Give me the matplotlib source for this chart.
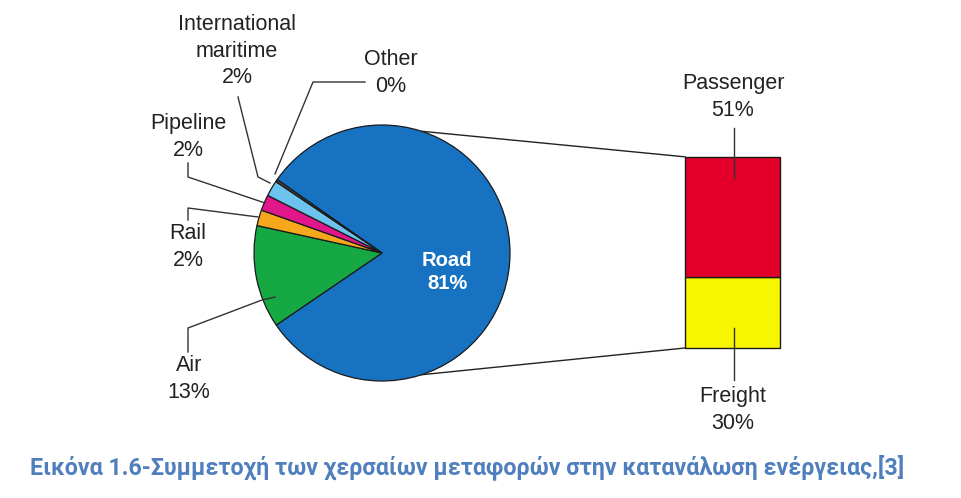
import matplotlib
matplotlib.use("Agg")
import matplotlib.pyplot as plt
import numpy as np

# ---- data ----
pie_labels = ["Road", "Air", "Rail", "Pipeline", "International\nmaritime", "Other"]
pie_values = [81, 13, 2, 2, 2, 0.3]
pie_pct_text = ["81%", "13%", "2%", "2%", "2%", "0%"]
pie_colors = ["#1773c2", "#16a843", "#f6a81c", "#e0168a", "#6cc3ee", "#4a4a4a"]

bar_labels = ["Freight", "Passenger"]
bar_values = [30, 51]
bar_colors = ["#f7f500", "#e2002a"]

caption = "Εικόνα 1.6-Συμμετοχή των χερσαίων μεταφορών στην κατανάλωση ενέργειας,[3]"

W, H = 961, 498
fig = plt.figure(figsize=(W / 100, H / 100), dpi=100)
ax = fig.add_axes([0, 0, 1, 1])

def Y(ypx):
    return H - ypx

cx, cy, R = 382, Y(253), 128
ax.pie(pie_values, startangle=145, counterclock=False, center=(cx, cy), radius=R,
       colors=pie_colors,
       wedgeprops=dict(edgecolor="#1a1a1a", linewidth=0.9))

# ---- stacked bar ----
scale = 2.36
bx, bw, bbottom = 732.5, 95, Y(348)
bottom = bbottom
for lab, v, c in zip(bar_labels, bar_values, bar_colors):
    ax.bar(bx, v * scale, width=bw, bottom=bottom, color=c,
           edgecolor="#1a1a1a", linewidth=1.0, zorder=3)
    bottom += v * scale
btop = bottom

# connectors from pie to bar
a = np.deg2rad(72)
ax.plot([cx + R * np.cos(a), bx - bw / 2], [cy + R * np.sin(a), btop],
        color="#222222", lw=1.0, zorder=1)
ax.plot([cx + R * np.cos(-a), bx - bw / 2], [cy + R * np.sin(-a), bbottom],
        color="#222222", lw=1.0, zorder=1)

# ---- leader lines ----
lc = "#333333"
leaders = [
    [(238, 97), (258, 177), (270, 183)],            # maritime
    [(365, 82), (313, 82), (275, 174)],             # other
    [(188, 163), (188, 177), (265, 203)],           # pipeline
    [(188, 220), (188, 208), (258, 217)],           # rail
    [(188, 352), (188, 328), (262, 300), (275, 297)],  # air
    [(734, 128), (734, 178)],                       # passenger
    [(734, 328), (734, 380)],                       # freight
]
for pts in leaders:
    xs = [p[0] for p in pts]
    ys = [Y(p[1]) for p in pts]
    ax.plot(xs, ys, color=lc, lw=1.0, zorder=4)

# ---- labels ----
fam = ["Liberation Sans", "DejaVu Sans"]
fs = 15.5
ls = 1.32
txtc = "#222222"
label_pos = {
    "International\nmaritime": (237, 51),
    "Other": (391, 73),
    "Pipeline": (188, 137),
    "Rail": (188, 247),
    "Air": (189, 379),
}
for lab, pct in zip(pie_labels, pie_pct_text):
    if lab in label_pos:
        x, y = label_pos[lab]
        ax.text(x, Y(y), f"{lab}\n{pct}", ha="center", va="center",
                fontsize=fs, family=fam, color=txtc, linespacing=ls)

ax.text(447, Y(272), f"{pie_labels[0]}\n{pie_pct_text[0]}", ha="center", va="center",
        fontsize=14.5, family=fam, fontweight="bold", color="white",
        linespacing=1.32, zorder=5)

bar_pos = {"Passenger": (733, 97), "Freight": (733, 410)}
for lab, v in zip(bar_labels, bar_values):
    x, y = bar_pos[lab]
    ax.text(x, Y(y), f"{lab}\n{v}%", ha="center", va="center",
            fontsize=fs, family=fam, color=txtc, linespacing=ls)

# ---- caption ----
cap = ax.text(30, Y(474), caption, ha="left", va="baseline", fontsize=16,
              family=["Roboto", "Open Sans", "DejaVu Sans"],
              fontweight="bold", color="#4f7fbd")
fig.canvas.draw()
wpx = cap.get_window_extent().width
cap.set_fontsize(16 * 875 / wpx)

ax.set_xlim(0, W)
ax.set_ylim(0, H)
ax.set_aspect("auto")
ax.axis("off")

fig.savefig("out.png", dpi=100, facecolor="white")
